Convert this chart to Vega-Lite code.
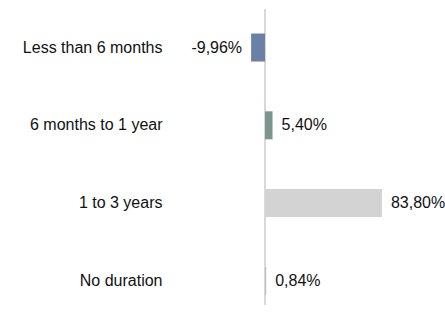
{
  "$schema": "https://vega.github.io/schema/vega-lite/v6.json",
  "width": 265,
  "height": 296,
  "autosize": {"type": "none"},
  "padding": {"left": 175, "top": 9, "right": 5, "bottom": 10},
  "background": "white",
  "config": {"view": {"stroke": null}, "font": "Liberation Sans"},
  "data": {
    "values": [
      {"category": "Less than 6 months", "value": -9.96, "label": "-9,96%"},
      {"category": "6 months to 1 year", "value": 5.40, "label": "5,40%"},
      {"category": "1 to 3 years", "value": 83.80, "label": "83,80%"},
      {"category": "No duration", "value": 0.84, "label": "0,84%"}
    ]
  },
  "layer": [
    {
      "mark": {"type": "rule", "color": "#d9d9d9", "strokeWidth": 2},
      "encoding": {"x": {"datum": 0, "type": "quantitative", "scale": {"domain": [-64.5, 125.4], "nice": false}, "axis": null}}
    },
    {
      "mark": {"type": "bar"},
      "encoding": {
        "y": {
          "field": "category",
          "type": "nominal",
          "sort": ["Less than 6 months", "6 months to 1 year", "1 to 3 years", "No duration"],
          "scale": {"paddingInner": 0.64, "paddingOuter": 0.2225, "align": 0.708},
          "axis": {"title": null, "domain": false, "ticks": false, "labelPadding": 13, "labelFontSize": 16, "labelFont": "Liberation Sans", "labelColor": "#111111", "labelLimit": 200}
        },
        "x": {"field": "value", "type": "quantitative", "scale": {"domain": [-64.5, 125.4], "nice": false, "zero": true}, "axis": null},
        "color": {
          "field": "category",
          "type": "nominal",
          "scale": {"domain": ["Less than 6 months", "6 months to 1 year", "1 to 3 years", "No duration"], "range": ["#6a80a4", "#7b968f", "#d3d3d3", "#c9b7c3"]},
          "legend": null
        }
      }
    },
    {
      "transform": [{"filter": "datum.value >= 0"}],
      "mark": {"type": "text", "align": "left", "baseline": "middle", "dx": 9, "fontSize": 16, "font": "Liberation Sans", "color": "#111111"},
      "encoding": {
        "y": {"field": "category", "type": "nominal", "sort": ["Less than 6 months", "6 months to 1 year", "1 to 3 years", "No duration"]},
        "x": {"field": "value", "type": "quantitative"},
        "text": {"field": "label"}
      }
    },
    {
      "transform": [{"filter": "datum.value < 0"}],
      "mark": {"type": "text", "align": "right", "baseline": "middle", "dx": -9, "fontSize": 16, "font": "Liberation Sans", "color": "#111111"},
      "encoding": {
        "y": {"field": "category", "type": "nominal", "sort": ["Less than 6 months", "6 months to 1 year", "1 to 3 years", "No duration"]},
        "x": {"field": "value", "type": "quantitative"},
        "text": {"field": "label"}
      }
    }
  ]
}
